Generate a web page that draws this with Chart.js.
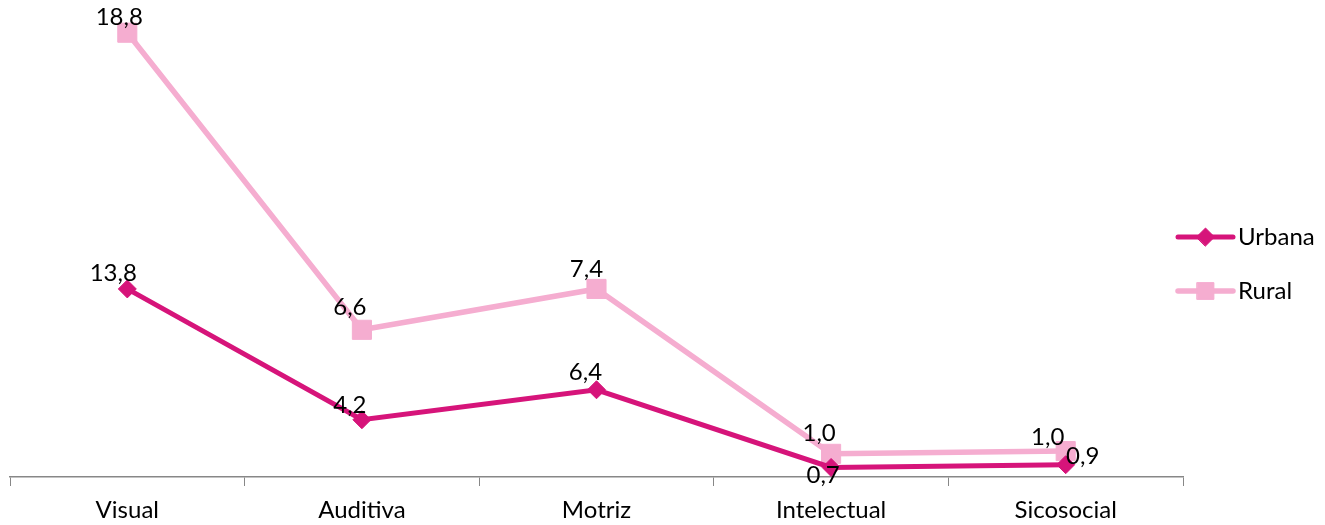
<!DOCTYPE html>
<html><head><meta charset="utf-8">
<script src="https://cdn.jsdelivr.net/npm/chart.js@4"></script>
<style>html,body{margin:0;padding:0;background:#fff;}#wrap{width:1325px;height:525px;position:relative;}</style>
</head><body><div id="wrap"><canvas id="c"></canvas></div>
<script>
// ---- data ----
const categories = ['Visual', 'Auditiva', 'Motriz', 'Intelectual', 'Sicosocial'];
const seriesNames = ['Urbana', 'Rural'];
const urbanaValues = [13.8, 4.2, 6.4, 0.7, 0.9];
const ruralValues = [18.8, 6.6, 7.4, 1.0, 1.0];

// ---- style ----
const FONT = 'Lato';
const FS = 24;
const urbanaColor = '#D6147A';
const ruralColor = '#F5ADD0';
const axisColor = '#878787';
// label nudges (dx, dy of text centre relative to the point)
const labelNudges = [
  [[-14, -16], [-12, -15], [-11, -18], [-8, 8], [17, -9]],
  [[-8, -16], [-12, -23], [-10, -20], [-12, -21], [-18, -14]]
];

const fmt = v => v.toFixed(1).replace('.', ',');

const dataLabels = {
  id: 'dataLabels',
  afterDatasetsDraw(chart) {
    const ctx = chart.ctx;
    ctx.save();
    ctx.font = FS + 'px ' + FONT;
    ctx.fillStyle = '#000';
    ctx.textAlign = 'center';
    ctx.textBaseline = 'alphabetic';
    chart.data.datasets.forEach((ds, di) => {
      const meta = chart.getDatasetMeta(di);
      meta.data.forEach((pt, i) => {
        const n = labelNudges[di][i];
        ctx.fillText(fmt(ds.data[i]), pt.x + n[0], pt.y + n[1] + 8);
      });
    });
    ctx.restore();
  }
};

const sideLegend = {
  id: 'sideLegend',
  afterDraw(chart) {
    const ctx = chart.ctx;
    const x0 = chart.chartArea.right - 5, x1 = x0 + 55;
    const cy = chart.height / 2 + 1.5;
    chart.data.datasets.forEach((ds, di) => {
      const y = cy + (di === 0 ? -27 : 27);
      ctx.save();
      ctx.strokeStyle = ds.borderColor; ctx.lineWidth = ds.borderWidth; ctx.lineCap = 'round';
      ctx.beginPath(); ctx.moveTo(x0, y); ctx.lineTo(x1, y); ctx.stroke();
      ctx.fillStyle = ds.pointBackgroundColor; ctx.strokeStyle = ds.pointBorderColor; ctx.lineWidth = 1;
      const r = ds.pointStyle === 'rect' ? ds.pointRadius * 0.88 : ds.pointRadius;
      Chart.helpers.drawPoint(ctx, { pointStyle: ds.pointStyle, rotation: 0, radius: r, borderWidth: 1 }, (x0 + x1) / 2, y);
      ctx.fillStyle = '#000'; ctx.font = FS + 'px ' + FONT; ctx.textAlign = 'left'; ctx.textBaseline = 'middle';
      ctx.fillText(ds.label, x1 + 5, y);
      ctx.restore();
    });
  }
};

new Chart(document.getElementById('c'), {
  type: 'line',
  data: {
    labels: categories,
    datasets: [
      {
        label: seriesNames[0], data: urbanaValues,
        borderColor: urbanaColor, backgroundColor: urbanaColor,
        borderWidth: 5, pointStyle: 'rectRot', pointRadius: 9,
        pointBackgroundColor: urbanaColor, pointBorderColor: urbanaColor,
        pointBorderWidth: 1, tension: 0, fill: false, clip: false
      },
      {
        label: seriesNames[1], data: ruralValues,
        borderColor: ruralColor, backgroundColor: ruralColor,
        borderWidth: 5.5, pointStyle: 'rect', pointRadius: 13.5,
        pointBackgroundColor: ruralColor, pointBorderColor: ruralColor,
        pointBorderWidth: 1, tension: 0, fill: false, clip: false
      }
    ]
  },
  options: {
    responsive: true, maintainAspectRatio: false, animation: false,
    devicePixelRatio: 1,
    layout: { autoPadding: false, padding: { left: 10, right: 142, top: 0, bottom: 0 } },
    plugins: { legend: { display: false }, tooltip: { enabled: false } },
    scales: {
      x: {
        offset: true,
        grid: { display: true, drawOnChartArea: false, drawTicks: true, tickLength: 9, color: axisColor, lineWidth: 1, offset: true },
        border: { display: true, color: axisColor, width: 1.5 },
        ticks: { color: '#000', font: { family: FONT, size: FS }, padding: 10, maxRotation: 0 },
        afterFit: s => { s.height = 48; }
      },
      y: {
        display: false, stacked: true, min: 0, max: 35
      }
    }
  },
  plugins: [dataLabels, sideLegend]
});
</script>
</body></html>
